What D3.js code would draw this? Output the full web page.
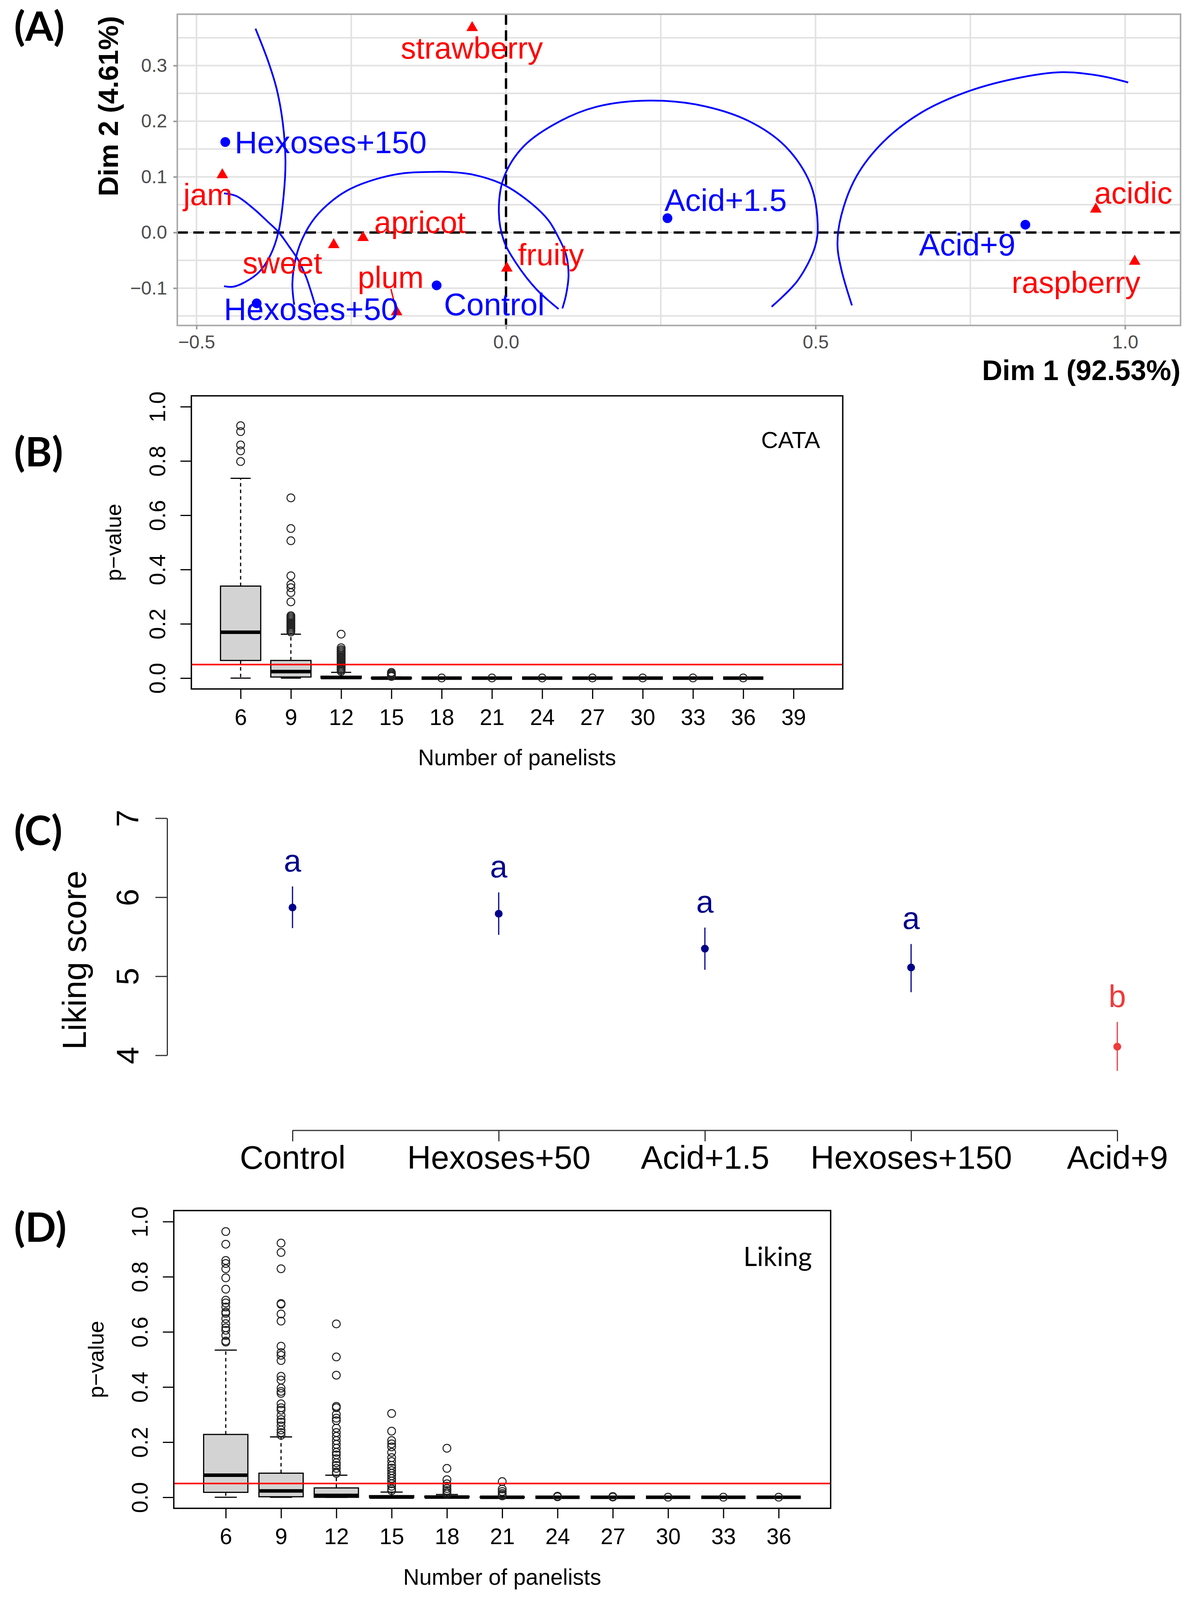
<!DOCTYPE html>
<html>
<head>
<meta charset="utf-8">
<script src="https://cdn.jsdelivr.net/npm/d3@7"></script>
<style>
  html, body { margin: 0; padding: 0; background: #fff; overflow: hidden; }
  svg { display: block; }
</style>
</head>
<body>
<svg id="fig"></svg>
<script>
// ---------- (A) CATA map ----------
const products = ["Control", "Hexoses+50", "Acid+1.5", "Hexoses+150", "Acid+9"];
const prodDim1 = [-0.1121, -0.4028, 0.2608, -0.4535, 0.8389];
const prodDim2 = [-0.0950, -0.1273, 0.0257, 0.1626, 0.0140];
const prodLabelDim1 = [-0.019, -0.3148, 0.3547, -0.2833, 0.745];
const prodLabelDim2 = [-0.1285, -0.1368, 0.0593, 0.1632, -0.0209];

const attributes = ["strawberry", "jam", "sweet", "apricot", "plum", "fruity", "acidic", "raspberry"];
const attrDim1 = [-0.0547, -0.4583, -0.2783, -0.2310, -0.1767, 0.0013, 0.9527, 1.0155];
const attrDim2 = [0.3680, 0.1036, -0.0221, -0.0093, -0.1427, -0.0642, 0.0418, -0.0519];
const attrLabelDim1 = [-0.0552, -0.4816, -0.3613, -0.139, -0.1862, 0.0725, 1.0134, 0.9207];
const attrLabelDim2 = [0.332, 0.069, -0.0541, 0.019, -0.0798, -0.0388, 0.0715, -0.0891];
const plumSegmentEnd = [-0.1859, -0.1016];

// blue arcs, as points (Dim 1, Dim 2)
const arcHex150 = [[-0.4047,0.3664],[-0.3846,0.3089],[-0.3704,0.2576],[-0.3605,0.1960],[-0.3563,0.1293],[-0.3591,0.0678],[-0.3676,0.0010],[-0.3803,-0.0400],[-0.3986,-0.0708],[-0.4211,-0.0888],[-0.4408,-0.0975],[-0.4555,-0.0965]];
const arcHex50 = [[-0.4555,0.0703],[-0.4351,0.0652],[-0.4070,0.0421],[-0.3845,0.0190],[-0.3676,0.0010],[-0.3507,-0.0247],[-0.3366,-0.0477],[-0.3225,-0.0811],[-0.3085,-0.1298]];
const arcControl = [[-0.3422,-0.1298],[-0.3451,-0.0913],[-0.3394,-0.0451],[-0.3282,-0.0093],[-0.3085,0.0267],[-0.2803,0.0575],[-0.2521,0.0780],[-0.2098,0.0960],[-0.1676,0.1062],[-0.1254,0.1087],[-0.0921,0.1087],[-0.0519,0.1036],[-0.0036,0.0857],[0.0407,0.0524],[0.0688,0.0215],[0.0849,-0.0093],[0.0970,-0.0400],[0.1010,-0.0759],[0.0970,-0.1119],[0.0910,-0.1365]];
const arcAcid15 = [[0.0849,-0.1375],[0.0487,-0.1016],[0.0165,-0.0554],[-0.0036,-0.0144],[-0.0116,0.0370],[-0.0036,0.0985],[0.0286,0.1550],[0.0890,0.2011],[0.1493,0.2268],[0.2298,0.2371],[0.3103,0.2294],[0.3907,0.2011],[0.4511,0.1550],[0.4913,0.0883],[0.5034,0.0164],[0.4994,-0.0247],[0.4712,-0.0862],[0.4290,-0.1334]];
const arcAcid9 = [[0.5588,-0.1311],[0.5416,-0.0660],[0.5354,-0.0220],[0.5416,0.0308],[0.5662,0.1011],[0.6093,0.1627],[0.6708,0.2155],[0.7447,0.2529],[0.8247,0.2771],[0.8986,0.2881],[0.9601,0.2815],[1.0050,0.2696]];

const dim1Ticks = [-0.5, 0.0, 0.5, 1.0];
const dim2Ticks = [-0.1, 0.0, 0.1, 0.2, 0.3];

// ---------- (B) CATA p-values ----------
const panelSizesB = [6, 9, 12, 15, 18, 21, 24, 27, 30, 33, 36, 39];
const cataQ1 = [0.065, 0.004, 0, 0, 0, 0, 0, 0, 0, 0, 0, null];
const cataMedian = [0.169, 0.024, 0.002, 0, 0, 0, 0, 0, 0, 0, 0, null];
const cataQ3 = [0.339, 0.065, 0.007, 0.001, 0, 0, 0, 0, 0, 0, 0, null];
const cataLow = [0, 0, 0, 0, 0, 0, 0, 0, 0, 0, 0, null];
const cataHigh = [0.736, 0.162, 0.021, 0.004, 0, 0, 0, 0, 0, 0, 0, null];
const cataOutliers = [
  [0.930, 0.908, 0.859, 0.837, 0.798],
  [0.664, 0.551, 0.506, 0.377, 0.345, 0.333, 0.315, 0.281, 0.230, 0.225, 0.220, 0.215, 0.210, 0.205, 0.200, 0.195, 0.190, 0.185, 0.180, 0.175, 0.170],
  [0.162, 0.112, 0.105, 0.100, 0.095, 0.090, 0.085, 0.080, 0.075, 0.070, 0.065, 0.060, 0.055, 0.050, 0.045, 0.040, 0.035, 0.030, 0.025],
  [0.021, 0.017, 0.013, 0.009, 0.006],
  [0.0005], [0.0005], [0.0005], [0.0005], [0.0005], [0.0005], [0.0005],
  []
];

// ---------- (C) Liking ----------
const likingMean = [5.870, 5.791, 5.349, 5.111, 4.109];
const likingLower = [5.609, 5.524, 5.082, 4.798, 3.803];
const likingUpper = [6.137, 6.061, 5.616, 5.408, 4.422];
const likingGroup = ["a", "a", "a", "a", "b"];
const likingTicks = [4, 5, 6, 7];

// ---------- (D) Liking p-values ----------
const panelSizesD = [6, 9, 12, 15, 18, 21, 24, 27, 30, 33, 36];
const likQ1 = [0.018, 0.002, 0, 0, 0, 0, 0, 0, 0, 0, 0];
const likMedian = [0.080, 0.023, 0.007, 0.001, 0.001, 0, 0, 0, 0, 0, 0];
const likQ3 = [0.228, 0.0875, 0.034, 0.006, 0.004, 0.001, 0, 0, 0, 0, 0];
const likLow = [0, 0, 0, 0, 0, 0, 0, 0, 0, 0, 0];
const likHigh = [0.534, 0.219, 0.080, 0.019, 0.010, 0.003, 0.001, 0, 0, 0, 0];
const likOutliers = [
  [0.964, 0.918, 0.859, 0.848, 0.829, 0.796, 0.755, 0.715, 0.705, 0.690, 0.672, 0.667, 0.648, 0.630, 0.615, 0.606, 0.587, 0.567, 0.563],
  [0.922, 0.888, 0.829, 0.703, 0.700, 0.665, 0.639, 0.548, 0.525, 0.515, 0.496, 0.439, 0.425, 0.396, 0.384, 0.377, 0.339, 0.325, 0.316, 0.297, 0.282, 0.273, 0.259, 0.244, 0.235, 0.225],
  [0.629, 0.509, 0.443, 0.330, 0.325, 0.301, 0.287, 0.278, 0.251, 0.235, 0.221, 0.206, 0.192, 0.178, 0.163, 0.154, 0.140, 0.125, 0.116, 0.105, 0.092, 0.087],
  [0.304, 0.240, 0.206, 0.194, 0.183, 0.163, 0.144, 0.130, 0.116, 0.106, 0.097, 0.087, 0.078, 0.068, 0.059, 0.049, 0.040, 0.030, 0.024],
  [0.178, 0.105, 0.064, 0.049, 0.040, 0.032, 0.025, 0.018, 0.012],
  [0.057, 0.030, 0.021, 0.014, 0.009, 0.005],
  [0.004, 0.002],
  [0.003, 0.001],
  [0.0005], [0.0005], [0.0005]
];

const pTicks = [0, 0.2, 0.4, 0.6, 0.8, 1.0];
const alphaLevel = 0.05;

const ARIAL = '"Liberation Sans", Arial, sans-serif';
const CALIBRI = 'Lato, "Open Sans", sans-serif';

// The layout is laid out for a 3060 x 4503 page; if the window is shorter,
// every vertical position is squeezed to fit (text keeps its size).
const W = 3060, H = 4503;
const SY = Math.min(1, (window.innerHeight || H) / H);
const Y = v => v * SY;

const svg = d3.select("#fig").attr("width", W).attr("height", Math.floor(H * SY));
svg.append("rect").attr("width", W).attr("height", H).attr("fill", "#fff");

// panel letters
const panelLetters = [["(A)", 114], ["(B)", 1313], ["(C)", 2378], ["(D)", 3495]];
svg.selectAll(".plabel").data(panelLetters).join("text")
  .attr("x", 36).attr("y", d => Y(d[1]))
  .attr("font-family", CALIBRI).attr("font-weight", "bold").attr("font-size", 104)
  .text(d => d[0]);

// ===================== Panel A =====================
(function () {
  const left = 454, right = 3023, top = Y(40), bottom = Y(916);
  const x = d3.scaleLinear().domain([-0.531, 1.0896]).range([left, right]);
  const y = d3.scaleLinear().domain([-0.1671, 0.3923]).range([bottom, top]);
  const g = svg.append("g");

  g.append("clipPath").attr("id", "clipA").append("rect")
    .attr("x", left).attr("y", top).attr("width", right - left).attr("height", bottom - top);

  // grid (major + minor)
  const gridX = d3.range(-0.5, 1.01, 0.25);
  const gridY = d3.range(-0.15, 0.36, 0.05);
  g.selectAll(".gx").data(gridX).join("line")
    .attr("x1", d => x(d)).attr("x2", d => x(d)).attr("y1", top).attr("y2", bottom)
    .attr("stroke", "#E2E2E2").attr("stroke-width", 4);
  g.selectAll(".gy").data(gridY).join("line")
    .attr("x1", left).attr("x2", right).attr("y1", d => y(d)).attr("y2", d => y(d))
    .attr("stroke", "#E2E2E2").attr("stroke-width", 4);

  // zero lines
  g.append("line").attr("x1", x(0)).attr("x2", x(0)).attr("y1", top).attr("y2", bottom)
    .attr("stroke", "#000").attr("stroke-width", 6).attr("stroke-dasharray", "27,14");
  g.append("line").attr("x1", left).attr("x2", right).attr("y1", y(0)).attr("y2", y(0))
    .attr("stroke", "#000").attr("stroke-width", 6).attr("stroke-dasharray", "27,14");

  // arcs
  const line = d3.line().x(d => x(d[0])).y(d => y(d[1])).curve(d3.curveCatmullRom.alpha(0.5));
  g.append("g").attr("clip-path", "url(#clipA)")
    .selectAll("path").data([arcHex150, arcHex50, arcControl, arcAcid15, arcAcid9]).join("path")
    .attr("d", line).attr("fill", "none").attr("stroke", "#0000FF").attr("stroke-width", 4.5);

  // plum segment
  g.append("line")
    .attr("x1", x(attrDim1[4])).attr("y1", y(attrDim2[4]))
    .attr("x2", x(plumSegmentEnd[0])).attr("y2", y(plumSegmentEnd[1]))
    .attr("stroke", "#FF0000").attr("stroke-width", 3.5);

  // attribute triangles
  const tri = d3.symbol().type(d3.symbolTriangle).size(380);
  g.selectAll(".tri").data(attributes).join("path")
    .attr("transform", (d, i) => `translate(${x(attrDim1[i])},${y(attrDim2[i])})`)
    .attr("d", tri).attr("fill", "#FF0000");

  // product points
  g.selectAll(".pt").data(products).join("circle")
    .attr("cx", (d, i) => x(prodDim1[i])).attr("cy", (d, i) => y(prodDim2[i]))
    .attr("r", 12.5).attr("fill", "#0000FF");

  // labels
  g.selectAll(".alab").data(attributes).join("text")
    .attr("x", (d, i) => x(attrLabelDim1[i])).attr("y", (d, i) => y(attrLabelDim2[i]))
    .attr("dy", "0.36em").attr("text-anchor", "middle")
    .attr("font-family", ARIAL).attr("font-size", 78).attr("fill", "#FF0000")
    .text(d => d);
  g.selectAll(".plab").data(products).join("text")
    .attr("x", (d, i) => x(prodLabelDim1[i])).attr("y", (d, i) => y(prodLabelDim2[i]))
    .attr("dy", "0.36em").attr("text-anchor", "middle")
    .attr("font-family", ARIAL).attr("font-size", 80).attr("fill", "#0000FF")
    .text(d => d);

  // border
  g.append("rect").attr("x", left).attr("y", top).attr("width", right - left).attr("height", bottom - top)
    .attr("fill", "none").attr("stroke", "#ABABAB").attr("stroke-width", 4);

  // axes
  const ay = g.append("g").attr("transform", `translate(${left},0)`)
    .call(d3.axisLeft(y).tickValues(dim2Ticks).tickFormat(d3.format(".1f")).tickSize(10).tickPadding(16));
  const ax = g.append("g").attr("transform", `translate(0,${bottom})`)
    .call(d3.axisBottom(x).tickValues(dim1Ticks).tickFormat(d3.format(".1f")).tickSize(10).tickPadding(15));
  [ay, ax].forEach(a => {
    a.select(".domain").remove();
    a.selectAll(".tick line").attr("stroke", "#9A9A9A").attr("stroke-width", 4);
    a.selectAll(".tick text").attr("fill", "#4D4D4D").attr("font-size", 48).attr("font-family", ARIAL);
  });

  g.append("text").attr("transform", `translate(302,${Y(45)}) rotate(-90)`)
    .attr("text-anchor", "end").attr("font-family", ARIAL).attr("font-weight", "bold")
    .attr("font-size", 71).text("Dim 2 (4.61%)");
  g.append("text").attr("x", right).attr("y", Y(1057) + 12)
    .attr("text-anchor", "end").attr("font-family", ARIAL).attr("font-weight", "bold")
    .attr("font-size", 72).text("Dim 1 (92.53%)");
})();

// ===================== Box panels (B, D) =====================
function boxPanel(o) {
  const top = Y(o.top), bottom = Y(o.bottom);
  const x = d3.scaleLinear().domain(o.xDomain).range([o.left, o.right]);
  const y = d3.scaleLinear().domain([-0.04, 1.04]).range([bottom, top]);
  const g = svg.append("g");
  const bw = (x(2) - x(1)) * 0.8;

  o.sizes.forEach((s, i) => {
    if (o.q1[i] == null) return;
    const cx = x(i + 1);
    const b = g.append("g");
    // whiskers
    b.append("line").attr("x1", cx).attr("x2", cx).attr("y1", y(o.q3[i])).attr("y2", y(o.high[i]))
      .attr("stroke", "#000").attr("stroke-width", 3).attr("stroke-dasharray", "9,8");
    b.append("line").attr("x1", cx).attr("x2", cx).attr("y1", y(o.q1[i])).attr("y2", y(o.low[i]))
      .attr("stroke", "#000").attr("stroke-width", 3).attr("stroke-dasharray", "9,8");
    // staples
    [o.high[i], o.low[i]].forEach(v => {
      b.append("line").attr("x1", cx - bw / 4).attr("x2", cx + bw / 4).attr("y1", y(v)).attr("y2", y(v))
        .attr("stroke", "#000").attr("stroke-width", 3);
    });
    // box
    b.append("rect").attr("x", cx - bw / 2).attr("width", bw)
      .attr("y", y(o.q3[i])).attr("height", Math.max(0, y(o.q1[i]) - y(o.q3[i])))
      .attr("fill", "#D3D3D3").attr("stroke", "#000").attr("stroke-width", 3);
    // median
    b.append("line").attr("x1", cx - bw / 2).attr("x2", cx + bw / 2)
      .attr("y1", y(o.median[i])).attr("y2", y(o.median[i]))
      .attr("stroke", "#000").attr("stroke-width", 9);
    // outliers
    b.selectAll("circle").data(o.outliers[i]).join("circle")
      .attr("cx", cx).attr("cy", d => y(d)).attr("r", 10)
      .attr("fill", "none").attr("stroke", "#222").attr("stroke-width", 2.5);
  });

  // 0.05 line
  g.append("line").attr("x1", o.left).attr("x2", o.right).attr("y1", y(alphaLevel)).attr("y2", y(alphaLevel))
    .attr("stroke", "#FF0000").attr("stroke-width", 4);

  // frame
  g.append("rect").attr("x", o.left).attr("y", top).attr("width", o.right - o.left).attr("height", bottom - top)
    .attr("fill", "none").attr("stroke", "#000").attr("stroke-width", 3.5);

  const ay = g.append("g").attr("transform", `translate(${o.left},0)`)
    .call(d3.axisLeft(y).tickValues(pTicks).tickFormat(d3.format(".1f")).tickSize(28).tickSizeOuter(0));
  ay.select(".domain").remove();
  ay.selectAll(".tick text").attr("x", 0).attr("dy", 0).attr("text-anchor", "middle")
    .attr("transform", "translate(-67,0) rotate(-90)");

  const ax = g.append("g").attr("transform", `translate(0,${bottom})`)
    .call(d3.axisBottom(x).tickValues(d3.range(1, o.sizes.length + 1)).tickFormat(i => o.sizes[i - 1])
      .tickSize(28 * SY).tickSizeOuter(0));
  ax.select(".domain").remove();
  ax.selectAll(".tick text").attr("y", 101 * SY).attr("dy", 0);

  [ay, ax].forEach(a => {
    a.selectAll(".tick line").attr("stroke", "#000").attr("stroke-width", 3);
    a.selectAll(".tick text").attr("fill", "#000").attr("font-size", 57).attr("font-family", ARIAL);
  });

  g.append("text").attr("x", (o.left + o.right) / 2).attr("y", Y(o.bottom + 215))
    .attr("text-anchor", "middle").attr("font-family", ARIAL).attr("font-size", 57)
    .text("Number of panelists");
  g.append("text").attr("transform", `translate(${o.left - 180},${(top + bottom) / 2}) rotate(-90)`)
    .attr("text-anchor", "middle").attr("font-family", ARIAL).attr("font-size", 56)
    .text("p\u2212value");
  g.append("text").attr("x", o.tagX).attr("y", Y(o.tagY)).attr("text-anchor", "end")
    .attr("font-family", o.tagFont).attr("font-size", o.tagSize).text(o.tag);
}

boxPanel({
  left: 490, right: 2158, top: 1114, bottom: 1939, xDomain: [0.02, 12.98],
  sizes: panelSizesB, q1: cataQ1, median: cataMedian, q3: cataQ3, low: cataLow, high: cataHigh,
  outliers: cataOutliers, tag: "CATA", tagX: 2100, tagY: 1261, tagFont: ARIAL, tagSize: 60
});

boxPanel({
  left: 445, right: 2127, top: 3407, bottom: 4245, xDomain: [0.06, 11.94],
  sizes: panelSizesD, q1: likQ1, median: likMedian, q3: likQ3, low: likLow, high: likHigh,
  outliers: likOutliers, tag: "Liking", tagX: 2079, tagY: 3563, tagFont: CALIBRI, tagSize: 68
});

// ===================== Panel C =====================
(function () {
  const x = d3.scaleLinear().domain([1, 5]).range([749, 2861]);
  const y = d3.scaleLinear().domain([4, 7]).range([Y(2970), Y(2302.7)]);
  const axisX = 428, axisY = Y(3181);
  const g = svg.append("g");
  const colour = grp => grp === "a" ? "#00008B" : "#EE3B3B";

  const ay = g.append("g").attr("transform", `translate(${axisX},0)`)
    .call(d3.axisLeft(y).tickValues(likingTicks).tickFormat(d3.format("d")).tickSize(30).tickSizeOuter(0));
  ay.selectAll(".tick text").attr("x", 0).attr("dy", 0).attr("text-anchor", "middle")
    .attr("transform", "translate(-74,0) rotate(-90)");

  const ax = g.append("g").attr("transform", `translate(0,${axisY})`)
    .call(d3.axisBottom(x).tickValues([1, 2, 3, 4, 5]).tickFormat(i => products[i - 1])
      .tickSize(31 * SY).tickSizeOuter(0));
  ax.selectAll(".tick text").attr("y", 108 * SY).attr("dy", 0);

  [ay, ax].forEach(a => {
    a.select(".domain").attr("stroke", "#333").attr("stroke-width", 3);
    a.selectAll(".tick line").attr("stroke", "#333").attr("stroke-width", 3);
    a.selectAll(".tick text").attr("fill", "#000").attr("font-size", 84).attr("font-family", ARIAL);
  });
  ay.selectAll(".tick text").attr("font-size", 80);

  g.selectAll(".eb").data(products).join("line")
    .attr("x1", (d, i) => x(i + 1)).attr("x2", (d, i) => x(i + 1))
    .attr("y1", (d, i) => y(likingLower[i])).attr("y2", (d, i) => y(likingUpper[i]))
    .attr("stroke", (d, i) => colour(likingGroup[i])).attr("stroke-width", 3);
  g.selectAll(".mp").data(products).join("circle")
    .attr("cx", (d, i) => x(i + 1)).attr("cy", (d, i) => y(likingMean[i])).attr("r", 10)
    .attr("fill", (d, i) => colour(likingGroup[i]));
  g.selectAll(".grp").data(products).join("text")
    .attr("x", (d, i) => x(i + 1)).attr("y", (d, i) => y(likingUpper[i]) - 42 * SY)
    .attr("text-anchor", "middle").attr("font-family", ARIAL).attr("font-size", 80)
    .attr("fill", (d, i) => colour(likingGroup[i]))
    .text((d, i) => likingGroup[i]);

  g.append("text").attr("transform", `translate(220,${Y(2702)}) rotate(-90)`)
    .attr("text-anchor", "middle").attr("font-family", ARIAL).attr("font-size", 86)
    .text("Liking score");
})();
</script>
</body>
</html>
